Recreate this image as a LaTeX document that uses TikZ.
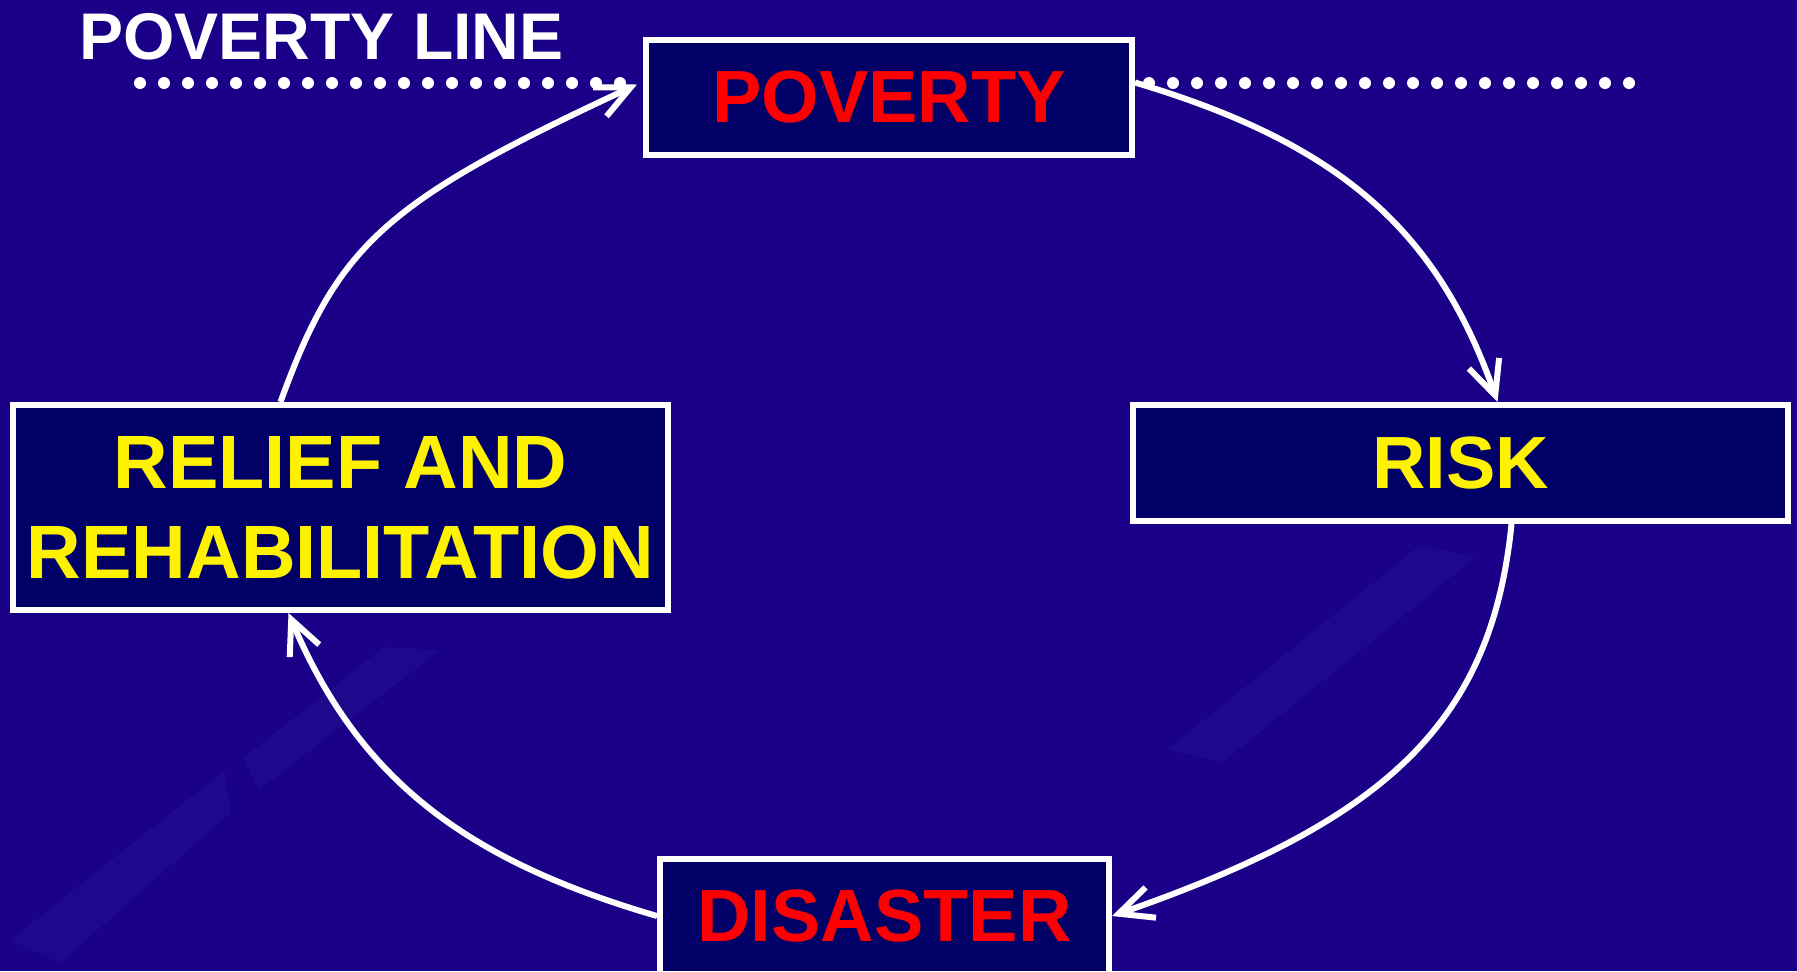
\documentclass[tikz,border=0pt]{standalone}
\usepackage{fontspec}
\setmainfont{Liberation Sans}
\usetikzlibrary{arrows.meta,backgrounds}
\definecolor{bgblue}{RGB}{27,0,136}
\definecolor{bgband}{RGB}{28,9,140}
\definecolor{boxblue}{RGB}{0,0,102}
\begin{document}
\begin{tikzpicture}[x=0.5pt,y=-0.5pt,
  box/.style={draw=white, line width=3pt, fill=boxblue, inner sep=0pt, align=center,
              font=\bfseries\fontsize{37}{45}\selectfont},
  cyc/.style={draw=white, line width=3pt, -{Straight Barb[length=17pt,width=16pt]}},
  povline/.style={draw=white, line width=6pt, line cap=round, dash pattern=on 0pt off 12pt}]
\useasboundingbox (0,0) rectangle (1797,971);

% nodes
\node[box, minimum width=243pt, minimum height=57.5pt, text=red] (pov) at (889,97.5) {POVERTY};
\node[box, minimum width=327.5pt, minimum height=58pt, text=yellow] (risk) at (1460.5,463) {RISK};
\node[box, minimum width=327.5pt, minimum height=102.5pt, text=yellow,
      font=\bfseries\fontsize{37.8}{45}\selectfont] (relief) at (340.5,507.5) {RELIEF AND\\REHABILITATION};
\node[box, minimum width=224.5pt, minimum height=57.5pt, text=red] (dis) at (884.5,916) {DISASTER};
\node[anchor=base west, inner sep=0pt, text=white, font=\bfseries\fontsize{33}{40}\selectfont] (pline) at (79,59) {POVERTY LINE};

\coordinate (pl) at (140,83);
\coordinate (pr) at (1629,83);

\begin{scope}[on background layer]
  \fill[bgblue] (0,0) rectangle (1797,971);
  % faint template bands
  \fill[bgband] (384,647) -- (440,650) -- (259,790) -- (243,758) -- cycle;
  \fill[bgband] (225,770) -- (230,813) -- (60,963) -- (11,940) -- (95,873) -- cycle;
  \fill[bgband] (1167,750) -- (1223,762) -- (1476,557) -- (1420,545) -- cycle;
  \draw[povline] (pl) -- (pov.west |- pl);
  \draw[povline] (pr) -- (pov.east |- pr);
\end{scope}

% cycle arrows
\draw[cyc] ([shift={(0,-15)}]pov.east) .. controls +(201,60) and +(-61,-175) .. ([shift={(37,0)}]risk.north);
\draw[cyc] ([shift={(51,0)}]risk.south) .. controls +(-20,199) and +(274,-95) .. (dis.east);
\draw[cyc] (dis.west) .. controls +(-192,-56) and +(70,166) .. ([shift={(-52,0)}]relief.south);
\draw[cyc] ([shift={(-60,0)}]relief.north) .. controls +(57,-157) and +(-254,118) .. ([shift={(-6,-13)}]pov.west);
\end{tikzpicture}
\end{document}
